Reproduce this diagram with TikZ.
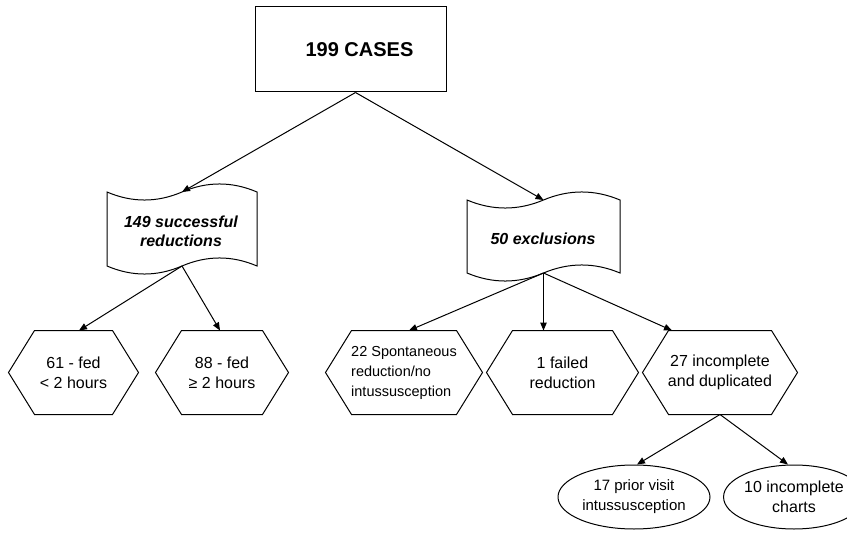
\documentclass[tikz,border=0pt]{standalone}
\usepackage{fontspec}
\setmainfont{Liberation Sans}
\usetikzlibrary{arrows.meta,calc,shapes.geometric}
\newcommand\hexdraw[1]{\draw (#1.west) -- ([xshift=26pt]#1.north west) -- ([xshift=-26pt]#1.north east) -- (#1.east) -- ([xshift=-26pt]#1.south east) -- ([xshift=26pt]#1.south west) -- cycle;}
\begin{document}
\begin{tikzpicture}[x=1pt,y=-1pt,line width=1pt,
  arr/.style={-{Triangle[length=8pt,width=6.5pt]}},
  txt/.style={font=\fontsize{16pt}{20pt}\selectfont,align=center,inner sep=0pt},
  hexn/.style={txt,minimum height=83pt},
  ell/.style={txt,ellipse,draw,minimum height=64pt}]
\useasboundingbox[fill=white] (0,0) rectangle (847,535);

% top box
\node[draw,minimum width=191pt,minimum height=85pt,inner sep=0pt,
      font=\bfseries\fontsize{20pt}{24pt}\selectfont] (top) at (350.5,49.5) {\hspace*{18pt}199 CASES};

% punched tape shapes
\draw (107,192) .. controls (132,202.7) and (157,202.7) .. (182,192)
      .. controls (207,181.3) and (232,181.3) .. (257,192) -- (257,266)
      .. controls (232,255.3) and (207,255.3) .. (182,266)
      .. controls (157,276.7) and (132,276.7) .. (107,266) -- cycle;
\coordinate (d1top) at (182,192);
\coordinate (d1bot) at (182,266);
\node[txt,font=\bfseries\itshape\fontsize{16pt}{19pt}\selectfont] (d1) at (181,231) {149 successful\\reductions};

\draw (467,200) .. controls (492.5,210.7) and (518,210.7) .. (543.5,200)
      .. controls (569,189.3) and (594.5,189.3) .. (620,200) -- (620,273)
      .. controls (594.5,262.3) and (569,262.3) .. (543.5,273)
      .. controls (518,283.7) and (492.5,283.7) .. (467,273) -- cycle;
\coordinate (d2top) at (543.5,200);
\coordinate (d2bot) at (543.5,273);
\node[txt,font=\bfseries\itshape\fontsize{16pt}{19pt}\selectfont] (d2) at (543,239) {50 exclusions};

% hexagons
\node[hexn,minimum width=129pt] (h1) at (73.5,372.5) {61 - fed\\< 2 hours};
\node[hexn,minimum width=132pt] (h2) at (222,372.5) {88 - fed\\≥ 2 hours};
\node[hexn,minimum width=156pt,align=left,font=\fontsize{14.5pt}{20pt}\selectfont] (h3) at (404,372.5) {22 Spontaneous\\reduction/no\\intussusception};
\node[hexn,minimum width=151pt] (h4) at (562.5,372.5) {1 failed\\reduction};
\node[hexn,minimum width=154pt] (h5) at (720,372.5) {27 incomplete\\and duplicated};
\hexdraw{h1}\hexdraw{h2}\hexdraw{h3}\hexdraw{h4}\hexdraw{h5}

% ellipses
\node[ell,minimum width=152pt,font=\fontsize{15pt}{20pt}\selectfont] (e1) at (634,497) {17 prior visit\\intussusception};
\node[ell,minimum width=136pt] (e2) at (794,497) {10 incomplete\\charts};

% connectors
\draw[arr] ([xshift=5pt]top.south) -- (d1top);
\draw[arr] ([xshift=5pt]top.south) -- (d2top);
\draw[arr] (d1bot) -- ([xshift=5.5pt]h1.north);
\draw[arr] (d1bot) -- ([xshift=-2pt]h2.north);
\draw[arr] (d2bot) -- ([xshift=5pt]h3.north);
\draw[arr] (d2bot) -- ([xshift=-19pt]h4.north);
\draw[arr] (d2bot) -- ([xshift=-48pt]h5.north);
\draw[arr] (h5.south) -- ([xshift=3pt]e1.north);
\draw[arr] (h5.south) -- ([xshift=-6pt]e2.north);
\end{tikzpicture}
\end{document}
